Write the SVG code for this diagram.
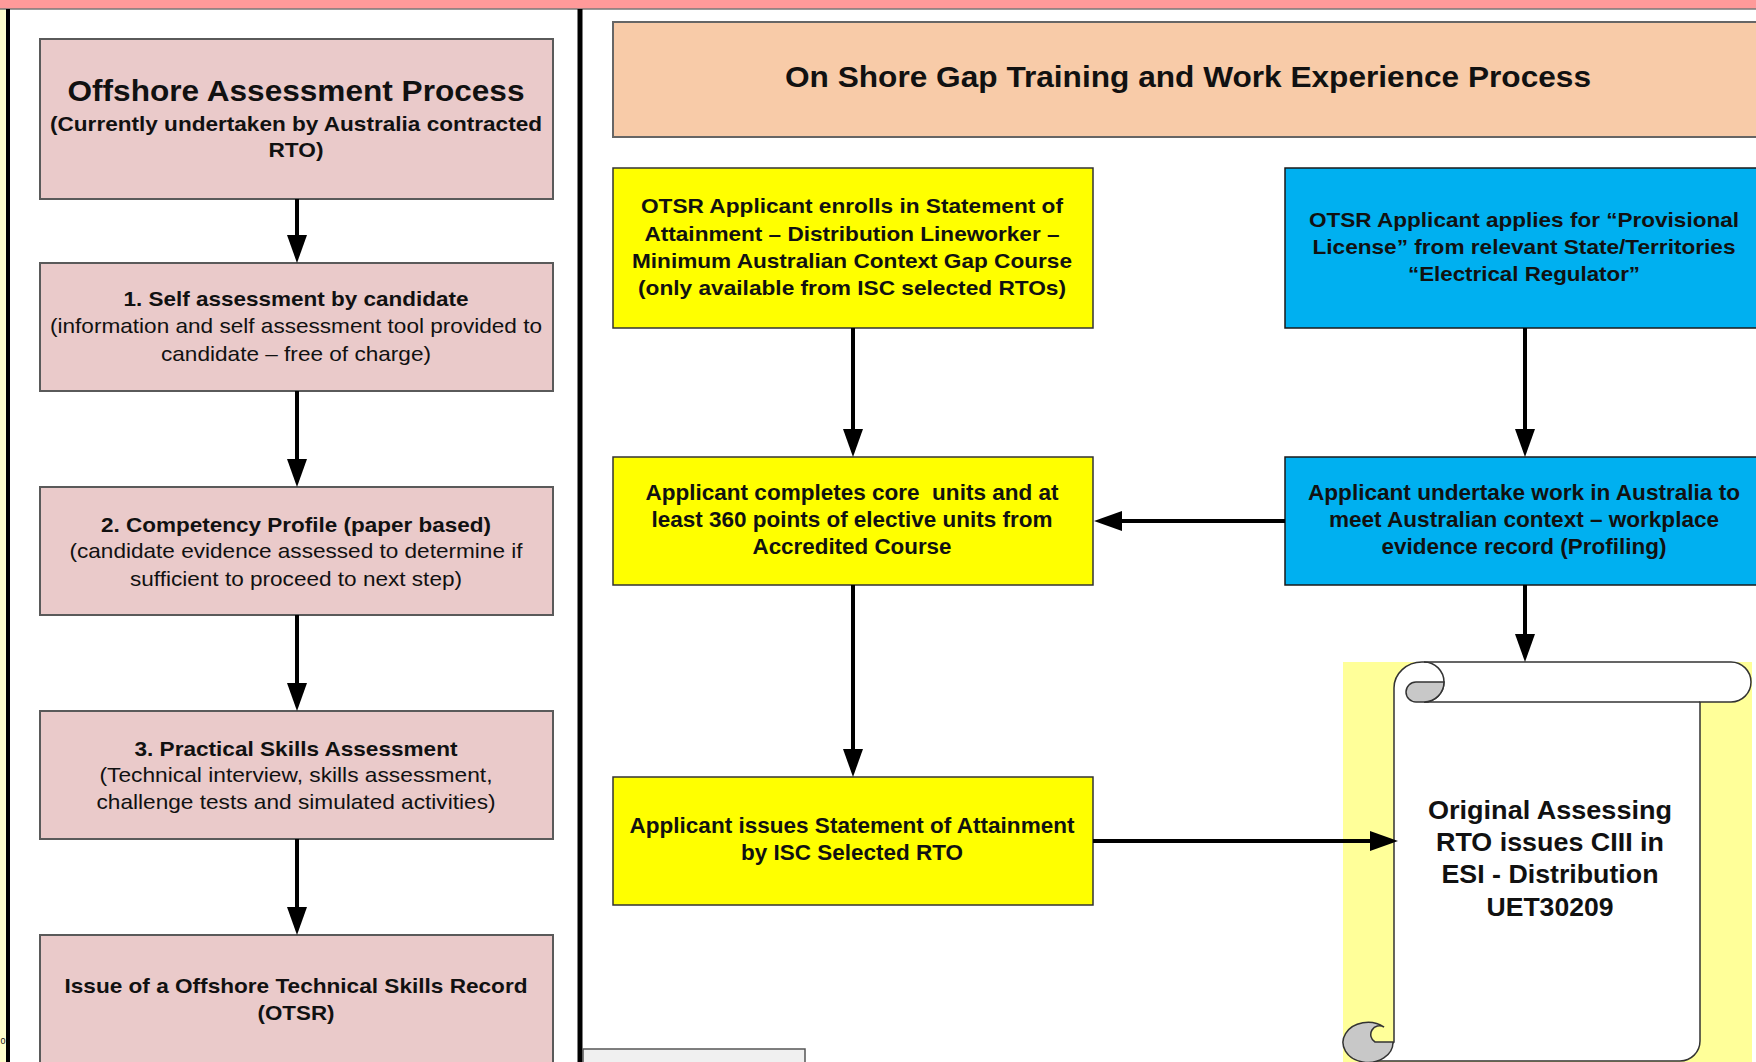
<svg xmlns="http://www.w3.org/2000/svg" width="1756" height="1062" viewBox="0 0 1756 1062">
<style>
text{font-family:"Liberation Sans",Arial,sans-serif;fill:#111;text-anchor:middle}
.b{font-weight:bold}
.lbox{fill:#EACACA;stroke:#5a5a5a;stroke-width:2}
.ybox{fill:#FFFF00;stroke:#333;stroke-width:1.5}
.bbox{fill:#00B0F0;stroke:#1a1a1a;stroke-width:1.5}
.hbox{fill:#F8CBA8;stroke:#666;stroke-width:2}
.conn{stroke:#000;stroke-width:4;fill:none;marker-end:url(#ah)}
.l21{font-size:21px}
.r21{font-size:21px}
.r22{font-size:21.5px}
</style>
<defs>
<marker id="ah" markerUnits="userSpaceOnUse" markerWidth="28" markerHeight="20" viewBox="0 0 28 20" refX="18" refY="10" orient="auto">
<path d="M0,0 L28,10 L0,20 Z" fill="#000"/>
</marker>
</defs>
<rect x="0" y="0" width="1756" height="1062" fill="#fff"/>
<g id="frame">
<rect x="0" y="9" width="6" height="1053" fill="#FFFFCC"/>
<rect x="0" y="0" width="1756" height="9" fill="#FF9A9A"/>
<line x1="0" y1="9" x2="1756" y2="9" stroke="#777" stroke-width="1.5"/>
<line x1="8" y1="9" x2="8" y2="1062" stroke="#000" stroke-width="4"/>
<line x1="580" y1="9" x2="580" y2="1062" stroke="#000" stroke-width="5"/>
<rect x="583" y="1049" width="222" height="30" fill="#F0F0F0" stroke="#555" stroke-width="1.5"/>
<text x="0.5" y="1044" style="font-size:9px;text-anchor:start">0</text>
</g>
<g id="n-offshore">
<rect class="lbox" x="40" y="39" width="513" height="160"/>
<text class="b" x="296" y="101" style="font-size:30px" textLength="457" lengthAdjust="spacingAndGlyphs">Offshore Assessment Process</text>
<text class="b l21" x="296" y="131" textLength="492" lengthAdjust="spacingAndGlyphs">(Currently undertaken by Australia contracted</text>
<text class="b l21" x="296" y="157" textLength="55" lengthAdjust="spacingAndGlyphs">RTO)</text>
</g>
<g id="n-step1">
<rect class="lbox" x="40" y="263" width="513" height="128"/>
<text class="b l21" x="296" y="306" textLength="345" lengthAdjust="spacingAndGlyphs">1. Self assessment by candidate</text>
<text class="l21" x="296" y="333" textLength="492" lengthAdjust="spacingAndGlyphs">(information and self assessment tool provided to</text>
<text class="l21" x="296" y="361" textLength="270" lengthAdjust="spacingAndGlyphs">candidate – free of charge)</text>
</g>
<g id="n-step2">
<rect class="lbox" x="40" y="487" width="513" height="128"/>
<text class="b l21" x="296" y="532" textLength="390" lengthAdjust="spacingAndGlyphs">2. Competency Profile (paper based)</text>
<text class="l21" x="296" y="558" textLength="453" lengthAdjust="spacingAndGlyphs">(candidate evidence assessed to determine if</text>
<text class="l21" x="296" y="586" textLength="332" lengthAdjust="spacingAndGlyphs">sufficient to proceed to next step)</text>
</g>
<g id="n-step3">
<rect class="lbox" x="40" y="711" width="513" height="128"/>
<text class="b l21" x="296" y="756" textLength="323" lengthAdjust="spacingAndGlyphs">3. Practical Skills Assessment</text>
<text class="l21" x="296" y="782" textLength="393" lengthAdjust="spacingAndGlyphs">(Technical interview, skills assessment,</text>
<text class="l21" x="296" y="809" textLength="399" lengthAdjust="spacingAndGlyphs">challenge tests and simulated activities)</text>
</g>
<g id="n-otsr">
<rect class="lbox" x="40" y="935" width="513" height="150"/>
<text class="b l21" x="296" y="993" textLength="463" lengthAdjust="spacingAndGlyphs">Issue of a Offshore Technical Skills Record</text>
<text class="b l21" x="296" y="1020" textLength="77" lengthAdjust="spacingAndGlyphs">(OTSR)</text>
</g>
<g id="n-header">
<rect class="hbox" x="613" y="22" width="1150" height="115"/>
<text class="b" x="1188" y="87" style="font-size:30px" textLength="806" lengthAdjust="spacingAndGlyphs">On Shore Gap Training and Work Experience Process</text>
</g>
<g id="n-enrol">
<rect class="ybox" x="613" y="168" width="480" height="160"/>
<text class="b r21" x="852" y="213" textLength="422" lengthAdjust="spacingAndGlyphs">OTSR Applicant enrolls in Statement of</text>
<text class="b r21" x="852" y="241" textLength="415" lengthAdjust="spacingAndGlyphs">Attainment – Distribution Lineworker –</text>
<text class="b r21" x="852" y="268" textLength="440" lengthAdjust="spacingAndGlyphs">Minimum Australian Context Gap Course</text>
<text class="b r21" x="852" y="295" textLength="428" lengthAdjust="spacingAndGlyphs">(only available from ISC selected RTOs)</text>
</g>
<g id="n-license">
<rect class="bbox" x="1285" y="168" width="478" height="160"/>
<text class="b r21" x="1524" y="227" textLength="430" lengthAdjust="spacingAndGlyphs">OTSR Applicant applies for “Provisional</text>
<text class="b r21" x="1524" y="254" textLength="423" lengthAdjust="spacingAndGlyphs">License” from relevant State/Territories</text>
<text class="b r21" x="1524" y="281" textLength="232" lengthAdjust="spacingAndGlyphs">“Electrical Regulator”</text>
</g>
<g id="n-complete">
<rect class="ybox" x="613" y="457" width="480" height="128"/>
<text class="b r22" x="852" y="500" style="white-space:pre" textLength="413" lengthAdjust="spacingAndGlyphs">Applicant completes core  units and at</text>
<text class="b r22" x="852" y="527" textLength="401" lengthAdjust="spacingAndGlyphs">least 360 points of elective units from</text>
<text class="b r22" x="852" y="554" textLength="199" lengthAdjust="spacingAndGlyphs">Accredited Course</text>
</g>
<g id="n-work">
<rect class="bbox" x="1285" y="457" width="478" height="128"/>
<text class="b r22" x="1524" y="500" textLength="432" lengthAdjust="spacingAndGlyphs">Applicant undertake work in Australia to</text>
<text class="b r22" x="1524" y="527" textLength="390" lengthAdjust="spacingAndGlyphs">meet Australian context – workplace</text>
<text class="b r22" x="1524" y="554" textLength="285" lengthAdjust="spacingAndGlyphs">evidence record (Profiling)</text>
</g>
<g id="n-soa">
<rect class="ybox" x="613" y="777" width="480" height="128"/>
<text class="b r22" x="852" y="833" textLength="445" lengthAdjust="spacingAndGlyphs">Applicant issues Statement of Attainment</text>
<text class="b r22" x="852" y="860" textLength="222" lengthAdjust="spacingAndGlyphs">by ISC Selected RTO</text>
</g>
<g id="n-scroll">
<rect x="1343" y="662" width="409" height="400" fill="#FFFF99"/>
<path d="M1394,1042 L1394,688 A28,26 0 0 1 1422,662 L1731,662 A20,20 0 0 1 1731,702 L1700,702 L1700,1041 A20,20 0 0 1 1680,1061 L1368,1061 Z" fill="#fff" stroke="#333" stroke-width="1.5"/>
<line x1="1424" y1="702" x2="1700" y2="702" stroke="#333" stroke-width="1.5"/>
<path d="M1424,662 A20,20 0 0 1 1424,702" fill="none" stroke="#333" stroke-width="1.5"/>
<path d="M1444,682 A20,20 0 0 1 1424,702 L1416,702 A10,10 0 0 1 1416,682 Z" fill="#C8C8C8" stroke="#333" stroke-width="1.5"/>
<path d="M1384,1027 A25,20 0 1 0 1393,1042 L1375,1042 A8,8 0 0 1 1384,1027 Z" fill="#C8C8C8" stroke="#333" stroke-width="1.5"/>
<text class="b" x="1550" y="819" style="font-size:26px" textLength="244" lengthAdjust="spacingAndGlyphs">Original Assessing</text>
<text class="b" x="1550" y="851" style="font-size:26px" textLength="228" lengthAdjust="spacingAndGlyphs">RTO issues CIII in</text>
<text class="b" x="1550" y="883" style="font-size:26px" textLength="217" lengthAdjust="spacingAndGlyphs">ESI - Distribution</text>
<text class="b" x="1550" y="916" style="font-size:26px" textLength="127" lengthAdjust="spacingAndGlyphs">UET30209</text>
</g>
<g id="connectors">
<path class="conn" d="M297,199 V253"/>
<path class="conn" d="M297,391 V477"/>
<path class="conn" d="M297,615 V701"/>
<path class="conn" d="M297,839 V925"/>
<path class="conn" d="M853,328 V447"/>
<path class="conn" d="M1525,328 V447"/>
<path class="conn" d="M1285,521 H1104"/>
<path class="conn" d="M853,585 V767"/>
<path class="conn" d="M1525,585 V652"/>
<path class="conn" d="M1093,841 H1388"/>
</g>
</svg>
